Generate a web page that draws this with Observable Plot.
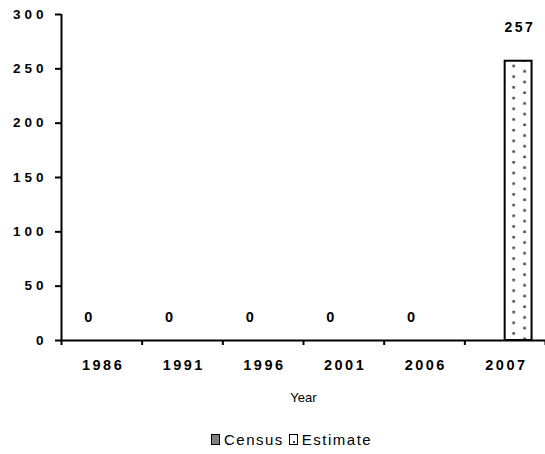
<!DOCTYPE html>
<html>
<head>
<meta charset="utf-8">
<script src="https://cdn.jsdelivr.net/npm/d3@7"></script>
<script src="https://cdn.jsdelivr.net/npm/@observablehq/plot@0.6"></script>
<style>
  html, body { margin: 0; padding: 0; background: #fff; }
  body { width: 545px; font-family: "Liberation Sans", Arial, sans-serif; }
  #legend { display: flex; align-items: center; height: 22px; margin-left: 211px; font-size: 15px; letter-spacing: 1.5px; color: #000; }
  #legend .sw { width: 7px; height: 9px; border: 1px solid #000; box-sizing: content-box; margin-right: 4px; position: relative; }
  #legend .item { display: flex; align-items: center; margin-right: 5px; }
</style>
</head>
<body>
<div id="chart"></div>
<div id="legend">
  <span class="item"><span class="sw" style="background:#808080"></span>Census</span>
  <span class="item"><span class="sw" style="background:#fff"><span style="position:absolute;left:3px;top:6px;width:2px;height:2px;background:#444"></span></span>Estimate</span>
</div>
<script>
const years = ["1986", "1991", "1996", "2001", "2006", "2007"];
const series = ["Census", "Estimate"];
const census = [0, 0, 0, 0, 0, null];
const estimate = [null, null, null, null, null, 257];
const yTicks = [0, 50, 100, 150, 200, 250, 300];

const rows = [];
years.forEach((yr, i) => {
  if (census[i] != null) rows.push({i, year: yr, series: "Census", value: census[i]});
  if (estimate[i] != null) rows.push({i, year: yr, series: "Estimate", value: estimate[i]});
});
// each year occupies one unit; the two series share the middle two thirds
const slot = d => d.i + 1 / 6 + series.indexOf(d.series) / 3;

const fontBold = {fontWeight: "bold"};

const plot = Plot.plot({
  width: 545,
  height: 428,
  marginLeft: 61,
  marginRight: 0,
  marginTop: 14,
  marginBottom: 88,
  style: {fontFamily: "Liberation Sans, Arial, sans-serif", fontSize: "13px", color: "#000", background: "#fff", overflow: "visible"},
  x: {domain: [0, years.length]},
  y: {domain: [0, 300]},
  marks: [
    Plot.rectY(rows.filter(d => d.series === "Census"), {
      x1: slot, x2: d => slot(d) + 1 / 3, y: "value",
      fill: "#808080", stroke: "#000", strokeWidth: 2.5
    }),
    Plot.rectY(rows.filter(d => d.series === "Estimate"), {
      x1: slot, x2: d => slot(d) + 1 / 3, y: "value",
      fill: "url(#dots)", stroke: "#000", strokeWidth: 2
    }),
    Plot.ruleY([0], {stroke: "#000", strokeWidth: 2}),
    Plot.ruleX([0], {stroke: "#000", strokeWidth: 2}),
    Plot.axisY({ticks: yTicks, tickSize: 6, tickPadding: 8, strokeWidth: 2, fontSize: 13.5, ...fontBold, label: null}),
    Plot.axisX({ticks: d3.range(years.length + 1), tickSize: 5, tickFormat: () => "", strokeWidth: 2, label: null}),
    Plot.axisX({ticks: years.map((y, i) => i + 0.5), tickSize: 0, tickPadding: 19, tickFormat: v => years[Math.floor(v)], fontSize: 14.5, ...fontBold, label: null}),
    Plot.text(["Year"], {frameAnchor: "bottom", dy: 61, fontSize: 13}),
    Plot.text(rows.filter(d => d.value === 0), {
      x: d => slot(d) + 1 / 6, y: "value", text: d => String(d.value),
      dy: -23, fontSize: 14.5, ...fontBold
    }),
    Plot.text(rows.filter(d => d.value > 0), {
      x: d => slot(d) + 1 / 6, y: "value", text: d => String(d.value),
      dy: -34, fontSize: 14, ...fontBold
    })
  ]
});

// letter spacing like the original's wide bold numerals
const svg = d3.select(plot);
svg.selectAll("g[aria-label='y-axis tick label'] text").style("letter-spacing", "4px");
svg.selectAll("g[aria-label='x-axis tick label'] text").style("letter-spacing", "2.5px").attr("dx", 1.25);
svg.selectAll("g[aria-label='text'] text")
  .filter(function () { return /^\d+$/.test(this.textContent) && this.textContent.length > 1; })
  .style("letter-spacing", "2.5px").attr("dx", 1.25);

// dotted pattern for the estimate bars, aligned on the bar through the scales
const xs = plot.scale("x"), ys = plot.scale("y");
const est = rows.find(d => d.series === "Estimate");
const bx = xs.apply(slot(est)), bw = xs.apply(slot(est) + 1 / 3) - bx;
const by = ys.apply(est.value);
const ns = "http://www.w3.org/2000/svg";
const defs = document.createElementNS(ns, "defs");
const pat = document.createElementNS(ns, "pattern");
pat.setAttribute("id", "dots");
pat.setAttribute("patternUnits", "userSpaceOnUse");
pat.setAttribute("x", bx);
pat.setAttribute("y", by + 4);
pat.setAttribute("width", bw);
pat.setAttribute("height", 10.7);
const bg = document.createElementNS(ns, "rect");
bg.setAttribute("width", bw); bg.setAttribute("height", 10.7); bg.setAttribute("fill", "#fff");
pat.appendChild(bg);
[[bw / 3, 0], [bw * 0.74, 5.35]].forEach(([px, py]) => {
  const r = document.createElementNS(ns, "rect");
  r.setAttribute("x", px - 1.25); r.setAttribute("y", py);
  r.setAttribute("width", 2.5); r.setAttribute("height", 2.5);
  r.setAttribute("fill", "#3a3a3a");
  pat.appendChild(r);
});
defs.appendChild(pat);
plot.insertBefore(defs, plot.firstChild);

document.getElementById("chart").appendChild(plot);
</script>
</body>
</html>
